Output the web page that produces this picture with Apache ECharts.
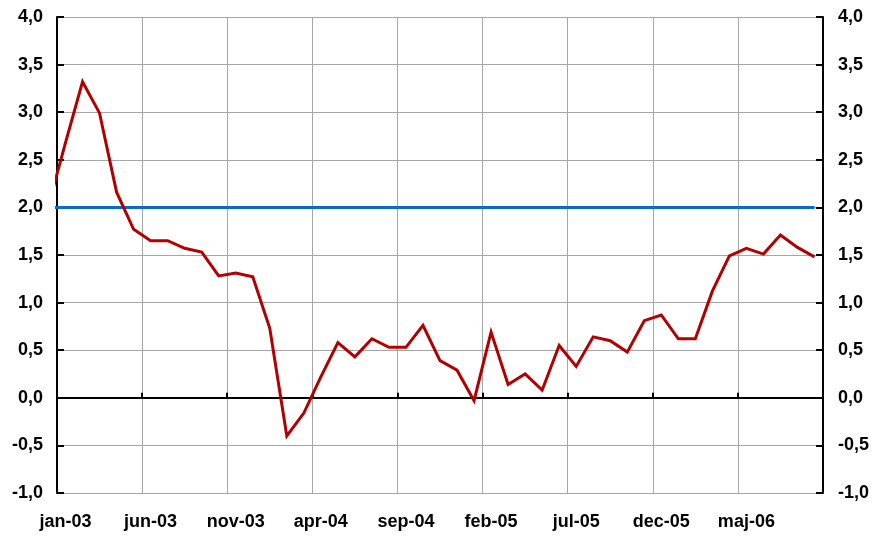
<!DOCTYPE html>
<html>
<head>
<meta charset="utf-8">
<script src="https://cdn.jsdelivr.net/npm/echarts@6/dist/echarts.min.js"></script>
<style>
  html, body { margin: 0; padding: 0; background: #ffffff; }
  #chart { width: 880px; height: 540px; }
</style>
</head>
<body>
<div id="chart"></div>
<script>
// Months (first one lies just before the visible range and is clipped by the axis)
const months = [
  'dec-02',
  'jan-03','feb-03','mar-03','apr-03','maj-03','jun-03','jul-03','aug-03','sep-03','okt-03','nov-03','dec-03',
  'jan-04','feb-04','mar-04','apr-04','maj-04','jun-04','jul-04','aug-04','sep-04','okt-04','nov-04','dec-04',
  'jan-05','feb-05','mar-05','apr-05','maj-05','jun-05','jul-05','aug-05','sep-05','okt-05','nov-05','dec-05',
  'jan-06','feb-06','mar-06','apr-06','maj-06','jun-06','jul-06','aug-06','sep-06'
];
const inflation = [
  2.02,
  2.68, 3.32, 2.99, 2.16, 1.77, 1.65, 1.65, 1.57, 1.53, 1.28, 1.31, 1.27,
  0.73, -0.40, -0.16, 0.22, 0.58, 0.43, 0.62, 0.53, 0.53, 0.76, 0.39, 0.29,
  -0.03, 0.69, 0.14, 0.25, 0.08, 0.55, 0.33, 0.64, 0.60, 0.48, 0.81, 0.87,
  0.62, 0.62, 1.12, 1.49, 1.57, 1.51, 1.71, 1.58, 1.48
];
const target = [
  2.0,
  2.0, 2.0, 2.0, 2.0, 2.0, 2.0, 2.0, 2.0, 2.0, 2.0, 2.0, 2.0,
  2.0, 2.0, 2.0, 2.0, 2.0, 2.0, 2.0, 2.0, 2.0, 2.0, 2.0, 2.0,
  2.0, 2.0, 2.0, 2.0, 2.0, 2.0, 2.0, 2.0, 2.0, 2.0, 2.0, 2.0,
  2.0, 2.0, 2.0, 2.0, 2.0, 2.0, 2.0, 2.0, 2.0
];
const tickLabels = ['jan-03','jun-03','nov-03','apr-04','sep-04','feb-05','jul-05','dec-05','maj-06'];
const yTicks = { min: -1, max: 4, step: 0.5 };

// Month i (in months[]) sits in the middle of its monthly band: position i - 0.5
const pos = (i) => i - 0.5;
const inflData = inflation.map((v, i) => [pos(i), v]);
const targetData = target.map((v, i) => [pos(i), v]);

const FONT = 'Liberation Sans, Arial, sans-serif';
const labelStyle = { color: '#000', fontFamily: FONT, fontWeight: 'bold', fontSize: 18 };
const yFmt = (v) => v.toFixed(1).replace('.', ',');

const chart = echarts.init(document.getElementById('chart'), null, { renderer: 'canvas' });
chart.setOption({
  animation: false,
  backgroundColor: '#ffffff',
  grid: { left: 57, right: 57, top: 17, bottom: 47, containLabel: false },
  xAxis: [
    {
      type: 'value', min: 0, max: 45, interval: 5, position: 'bottom',
      axisLine: { show: false, onZero: false },
      axisTick: { show: false },
      axisLabel: Object.assign({
        margin: 20,
        padding: [0, 0, 0, 17],
        formatter: (v) => tickLabels[Math.round(v / 5)] || ''
      }, labelStyle),
      splitLine: { show: true, lineStyle: { color: '#a6a6a6', width: 1 } }
    },
    {
      type: 'value', min: 0, max: 45, interval: 5, position: 'bottom',
      axisLine: { show: true, onZero: true, lineStyle: { color: '#000', width: 2 } },
      axisTick: { show: true, inside: true, length: 5, lineStyle: { color: '#000', width: 2 } },
      axisLabel: { show: false },
      splitLine: { show: false }
    }
  ],
  yAxis: [
    {
      type: 'value', min: yTicks.min, max: yTicks.max, interval: yTicks.step, position: 'left',
      axisLine: { show: true, onZero: false, lineStyle: { color: '#000', width: 2 } },
      axisTick: { show: true, inside: true, length: 7, lineStyle: { color: '#000', width: 2 } },
      axisLabel: Object.assign({ margin: 14, formatter: yFmt }, labelStyle),
      splitLine: { show: true, lineStyle: { color: '#a6a6a6', width: 1 } }
    },
    {
      type: 'value', min: yTicks.min, max: yTicks.max, interval: yTicks.step, position: 'right',
      axisLine: { show: true, onZero: false, lineStyle: { color: '#000', width: 2 } },
      axisTick: { show: true, inside: true, length: 7, lineStyle: { color: '#000', width: 2 } },
      axisLabel: Object.assign({ margin: 15, formatter: yFmt }, labelStyle),
      splitLine: { show: false }
    }
  ],
  series: [
    {
      name: 'Target', type: 'line', xAxisIndex: 0, yAxisIndex: 0,
      data: targetData, showSymbol: false, symbol: 'none', clip: true,
      lineStyle: { color: '#0a6bcb', width: 3 }, z: 3
    },
    {
      name: 'Inflation', type: 'line', xAxisIndex: 0, yAxisIndex: 0,
      data: inflData, showSymbol: false, symbol: 'none', clip: true,
      lineStyle: { color: '#b00000', width: 3, join: 'miter' }, z: 4
    }
  ]
});
</script>
</body>
</html>
